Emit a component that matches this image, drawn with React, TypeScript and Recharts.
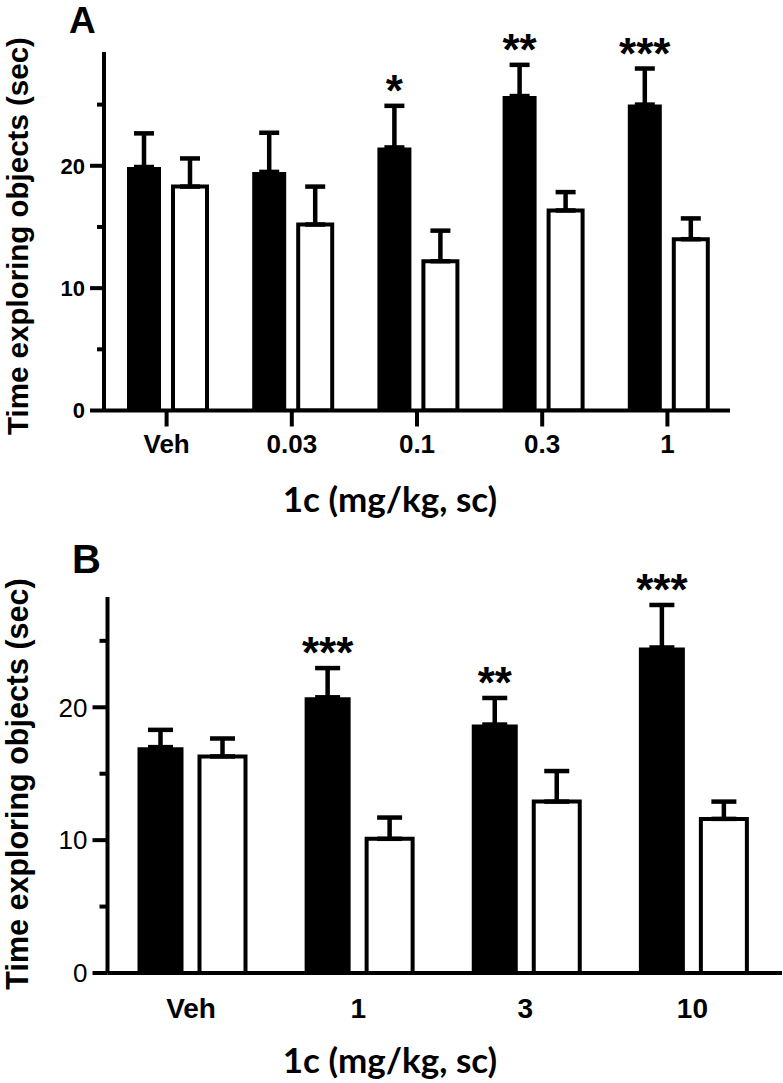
import React from 'react';
import { BarChart, Bar, XAxis, YAxis, ErrorBar, LabelList, Label } from 'recharts';

const ARIAL = '"Liberation Sans", Arial, sans-serif';
const CALIBRI = 'Lato, "Open Sans", sans-serif';

// Panel A
const categoriesA = ['Veh', '0.03', '0.1', '0.3', '1'];
const blackA = [19.9, 19.5, 21.5, 25.7, 25.0];
const blackErrA = [2.75, 3.2, 3.4, 2.55, 2.95];
const whiteA = [18.3, 15.2, 12.2, 16.35, 14.0];
const whiteErrA = [2.3, 3.1, 2.5, 1.5, 1.7];
const sigA = ['', '', '*', '**', '***'];

// Panel B
const categoriesB = ['Veh', '1', '3', '10'];
const blackB = [17.0, 20.75, 18.7, 24.5];
const blackErrB = [1.3, 2.2, 2.0, 3.2];
const whiteB = [16.3, 10.1, 12.9, 11.6];
const whiteErrB = [1.35, 1.6, 2.3, 1.3];
const sigB = ['', '***', '**', '***'];

const yTicks = [0, 5, 10, 15, 20, 25];
const labeledTicks = [0, 10, 20];

const yTitle = 'Time exploring objects (sec)';
const xTitle = '1c (mg/kg, sc)';

function buildRows(cats: string[], black: number[], blackErr: number[], white: number[], whiteErr: number[], sig: string[]) {
  return cats.map((cat, i) => ({
    cat,
    black: black[i],
    white: white[i],
    blackErr: [0, blackErr[i]],
    whiteErr: [0, whiteErr[i]],
    sig: sig[i],
  }));
}

const rowsA = buildRows(categoriesA, blackA, blackErrA, whiteA, whiteErrA, sigA);
const rowsB = buildRows(categoriesB, blackB, blackErrB, whiteB, whiteErrB, sigB);

type Cfg = {
  letter: string;
  width: number;
  height: number;
  margin: { top: number; right: number; bottom: number; left: number };
  yAxisWidth: number;
  xAxisHeight: number;
  yMax: number;
  xPadRight: number;
  barSize: number;
  barGap: number;
  capHalf: number;
  errStroke: number;
  yTickFont: number;
  yTickWeight: string;
  majorLen: number;
  minorLen: number;
  xTickFont: number;
  xTickSize: number;
  xTickBaseline: number;
  letterX: number;
  letterY: number;
  letterFont: number;
  yTitleX: number;
  yTitleY: number;
  yTitleFont: number;
  xTitleX: number;
  xTitleY: number;
  xTitleFont: number;
  starFont: number;
  starOffset: number;
};

const cfgA: Cfg = {
  letter: 'A', width: 783, height: 530,
  margin: { top: 52, right: 53, bottom: 69.5, left: 0 },
  yAxisWidth: 104, xAxisHeight: 50, yMax: 29.3, xPadRight: 0,
  barSize: 34, barGap: 12, capHalf: 10, errStroke: 4.5,
  yTickFont: 22, yTickWeight: 'bold', majorLen: 14, minorLen: 7,
  xTickFont: 26, xTickSize: 16, xTickBaseline: 453,
  letterX: 69, letterY: 33, letterFont: 37,
  yTitleX: 27.5, yTitleY: 236, yTitleFont: 29.5,
  xTitleX: 390, xTitleY: 512, xTitleFont: 35,
  starFont: 44, starOffset: 0,
};

const cfgB: Cfg = {
  letter: 'B', width: 783, height: 553,
  margin: { top: 67, right: 1, bottom: 60, left: 0 },
  yAxisWidth: 107.5, xAxisHeight: 50, yMax: 28.3, xPadRight: 6,
  barSize: 46, barGap: 16, capHalf: 12.5, errStroke: 4.5,
  yTickFont: 26, yTickWeight: 'normal', majorLen: 15, minorLen: 8,
  xTickFont: 28, xTickSize: 0, xTickBaseline: 488,
  letterX: 72, letterY: 43, letterFont: 40,
  yTitleX: 28, yTitleY: 254, yTitleFont: 30.5,
  xTitleX: 390, xTitleY: 543, xTitleFont: 35,
  starFont: 44, starOffset: 0,
};

function Panel({ cfg, rows }: { cfg: Cfg; rows: any[] }) {
  const YTick = (props: any) => {
    const { x, y, payload } = props;
    const v = payload.value;
    const major = labeledTicks.includes(v);
    const len = major ? cfg.majorLen : cfg.minorLen;
    return (
      <g>
        <line x1={x - len} x2={x} y1={y} y2={y} stroke="#000" strokeWidth={4} />
        {major && (
          <text x={x - len - 5} y={y} dy="0.36em" textAnchor="end" fontSize={cfg.yTickFont}
            fontWeight={cfg.yTickWeight} fontFamily={ARIAL} fill="#000">{v}</text>
        )}
      </g>
    );
  };

  const XTick = (props: any) => {
    const { x, payload } = props;
    return (
      <text x={x} y={cfg.xTickBaseline} textAnchor="middle" fontSize={cfg.xTickFont}
        fontWeight="bold" fontFamily={ARIAL} fill="#000">{payload.value}</text>
    );
  };

  const Stars = (props: any) => {
    const row = props.value;
    const vb = props.viewBox || props;
    if (!row || !row.sig) return null;
    const { x, y, width, height } = vb;
    const pxPerUnit = Math.abs(height) / row.black;
    const top = Math.min(y, y + height);
    const capY = top - row.blackErr[1] * pxPerUnit;
    return (
      <text x={x + width / 2} y={capY + cfg.starOffset} textAnchor="middle" fontSize={cfg.starFont}
        fontWeight="bold" fontFamily={ARIAL} fill="#000">{row.sig}</text>
    );
  };

  return (
    <BarChart width={cfg.width} height={cfg.height} data={rows} margin={cfg.margin}
      barSize={cfg.barSize} barGap={cfg.barGap}>
      <XAxis dataKey="cat" height={cfg.xAxisHeight} axisLine={{ stroke: '#000', strokeWidth: 4 }}
        tickLine={cfg.xTickSize > 0 ? { stroke: '#000', strokeWidth: 4 } : false}
        tickSize={cfg.xTickSize} tickMargin={0} tick={XTick} interval={0}
        padding={{ left: 0, right: cfg.xPadRight }}>
        <Label content={() => (
          <text x={cfg.xTitleX} y={cfg.xTitleY} textAnchor="middle" fontSize={cfg.xTitleFont}
            fontWeight="bold" fontFamily={CALIBRI} fill="#000">{xTitle}</text>
        )} />
      </XAxis>
      <YAxis type="number" domain={[0, cfg.yMax]} ticks={yTicks} width={cfg.yAxisWidth}
        axisLine={{ stroke: '#000', strokeWidth: 4 }} tickLine={false} tickSize={0} tickMargin={0}
        tick={YTick} interval={0} allowDataOverflow>
        <Label content={() => (
          <g>
            <text x={cfg.letterX} y={cfg.letterY} fontSize={cfg.letterFont} fontWeight="bold"
              fontFamily={ARIAL} fill="#000">{cfg.letter}</text>
            <text x={cfg.yTitleX} y={cfg.yTitleY} textAnchor="middle" fontSize={cfg.yTitleFont}
              fontWeight="bold" fontFamily={ARIAL} fill="#000"
              transform={`rotate(-90, ${cfg.yTitleX}, ${cfg.yTitleY})`}>{yTitle}</text>
          </g>
        )} />
      </YAxis>
      <Bar dataKey="black" fill="#000" isAnimationActive={false}>
        <ErrorBar dataKey="blackErr" direction="y" width={cfg.capHalf} stroke="#000"
          strokeWidth={cfg.errStroke} isAnimationActive={false} />
        <LabelList dataKey={(d: any) => d} content={Stars} />
      </Bar>
      <Bar dataKey="white" fill="#fff" stroke="#000" strokeWidth={4} isAnimationActive={false}>
        <ErrorBar dataKey="whiteErr" direction="y" width={cfg.capHalf} stroke="#000"
          strokeWidth={cfg.errStroke} isAnimationActive={false} />
      </Bar>
    </BarChart>
  );
}

export default function App() {
  return (
    <div style={{ position: 'absolute', left: 0, top: 0, width: 783, height: 1083, background: '#fff' }}>
      <div style={{ position: 'absolute', left: 0, top: 0 }}>
        <Panel cfg={cfgA} rows={rowsA} />
      </div>
      <div style={{ position: 'absolute', left: 0, top: 530 }}>
        <Panel cfg={cfgB} rows={rowsB} />
      </div>
    </div>
  );
}
